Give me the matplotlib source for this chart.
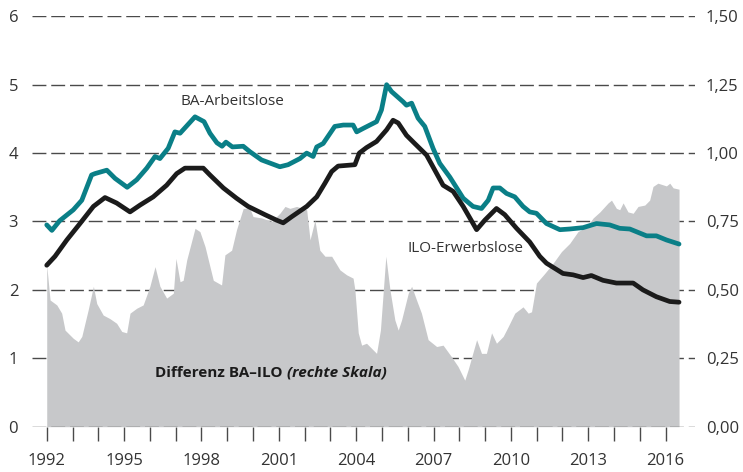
import matplotlib
matplotlib.use("Agg")
import matplotlib.pyplot as plt

plt.rcParams['font.family'] = ['Open Sans', 'DejaVu Sans']

# BA-Arbeitslose (Mio., linke Skala)
ba_years = [1992.0, 1992.2, 1992.5, 1993.03, 1993.36, 1993.74, 1993.87, 1994.33, 1994.65,
            1995.12, 1995.49, 1995.88, 1996.2, 1996.39, 1996.71, 1996.97, 1997.17, 1997.75,
            1998.1, 1998.33, 1998.6, 1998.8, 1998.95, 1999.2, 1999.62, 1999.88, 2000.33,
            2001.04, 2001.36, 2001.82, 2002.08, 2002.33, 2002.47, 2002.72, 2003.17, 2003.5,
            2003.88, 2004.02, 2004.27, 2004.53, 2004.79, 2004.98, 2005.18, 2005.37, 2005.82,
            2005.95, 2006.15, 2006.4, 2006.66, 2006.98, 2007.24, 2007.63, 2008.15, 2008.53,
            2008.86, 2009.12, 2009.31, 2009.57, 2009.83, 2010.15, 2010.47, 2010.73, 2010.99,
            2011.38, 2011.9, 2012.28, 2012.8, 2013.32, 2013.83, 2014.22, 2014.61, 2015.26,
            2015.64, 2016.03, 2016.52]
ba_values = [2.95, 2.87, 3.01, 3.17, 3.31, 3.68, 3.70, 3.75, 3.63,
             3.50, 3.61, 3.78, 3.95, 3.92, 4.07, 4.31, 4.29, 4.53,
             4.46, 4.29, 4.15, 4.10, 4.16, 4.09, 4.10, 4.02, 3.90,
             3.80, 3.83, 3.92, 4.00, 3.95, 4.09, 4.14, 4.39, 4.41,
             4.41, 4.31, 4.36, 4.41, 4.46, 4.63, 5.00, 4.90, 4.75,
             4.70, 4.73, 4.51, 4.39, 4.07, 3.85, 3.65, 3.34, 3.22,
             3.19, 3.31, 3.49, 3.49, 3.41, 3.36, 3.22, 3.14, 3.12,
             2.97, 2.88, 2.89, 2.91, 2.97, 2.95, 2.90, 2.89, 2.79,
             2.79, 2.73, 2.67]

# ILO-Erwerbslose (Mio., linke Skala)
ilo_years = [1992.0, 1992.32, 1992.78, 1993.29, 1993.81, 1994.26, 1994.71, 1995.23, 1995.62,
             1996.13, 1996.65, 1997.04, 1997.36, 1998.07, 1998.33, 1998.85, 1999.36, 1999.81,
             2000.46, 2000.91, 2001.17, 2001.5, 2002.08, 2002.47, 2002.79, 2003.05, 2003.3,
             2003.95, 2004.12, 2004.4, 2004.79, 2005.18, 2005.43, 2005.63, 2005.95, 2006.27,
             2006.73, 2007.05, 2007.37, 2007.76, 2008.15, 2008.67, 2008.99, 2009.44, 2009.76,
             2010.22, 2010.73, 2011.12, 2011.38, 2012.02, 2012.41, 2012.8, 2013.12, 2013.57,
             2014.09, 2014.74, 2015.12, 2015.64, 2016.16, 2016.52]
ilo_values = [2.36, 2.49, 2.73, 2.97, 3.22, 3.35, 3.27, 3.14, 3.24,
              3.36, 3.53, 3.70, 3.78, 3.78, 3.68, 3.49, 3.34, 3.22,
              3.10, 3.02, 2.98, 3.07, 3.22, 3.36, 3.56, 3.73, 3.81,
              3.83, 4.00, 4.08, 4.17, 4.34, 4.48, 4.44, 4.26, 4.14,
              3.97, 3.75, 3.53, 3.44, 3.22, 2.88, 3.02, 3.19, 3.10,
              2.90, 2.70, 2.49, 2.39, 2.24, 2.22, 2.18, 2.21, 2.14,
              2.10, 2.10, 2.00, 1.90, 1.83, 1.82]

# Differenz BA-ILO (Mio., rechte Skala)
diff_years = [1992.0, 1992.13, 1992.39, 1992.58, 1992.71, 1993.03, 1993.22, 1993.36, 1993.61,
              1993.81, 1993.94, 1994.19, 1994.45, 1994.71, 1994.91, 1995.1, 1995.23, 1995.49,
              1995.74, 1996.0, 1996.2, 1996.39, 1996.65, 1996.91, 1997.01, 1997.17, 1997.29,
              1997.43, 1997.75, 1997.94, 1998.14, 1998.46, 1998.78, 1998.91, 1999.17, 1999.36,
              1999.62, 1999.88, 2000.0, 2000.33, 2000.72, 2001.04, 2001.24, 2001.43, 2001.69,
              2002.08, 2002.21, 2002.4, 2002.59, 2002.79, 2003.05, 2003.37, 2003.63, 2003.88,
              2003.95, 2004.08, 2004.21, 2004.4, 2004.79, 2004.94, 2005.15, 2005.31, 2005.5,
              2005.63, 2005.76, 2006.02, 2006.15, 2006.34, 2006.53, 2006.79, 2007.12, 2007.37,
              2007.7, 2007.95, 2008.21, 2008.34, 2008.67, 2008.86, 2009.05, 2009.25, 2009.44,
              2009.7, 2009.89, 2010.15, 2010.47, 2010.67, 2010.8, 2010.99, 2011.31, 2011.64,
              2011.96, 2012.28, 2012.6, 2012.93, 2013.19, 2013.45, 2013.77, 2013.9, 2014.09,
              2014.22, 2014.35, 2014.54, 2014.74, 2014.93, 2015.19, 2015.38, 2015.51, 2015.7,
              2016.03, 2016.16, 2016.29, 2016.52]
diff_values = [0.590, 0.463, 0.445, 0.415, 0.353, 0.323, 0.310, 0.330, 0.428,
               0.513, 0.450, 0.408, 0.395, 0.378, 0.348, 0.343, 0.415, 0.433,
               0.445, 0.513, 0.585, 0.513, 0.470, 0.488, 0.615, 0.530, 0.535,
               0.610, 0.725, 0.713, 0.658, 0.535, 0.518, 0.628, 0.645, 0.720,
               0.798, 0.798, 0.768, 0.763, 0.750, 0.780, 0.805, 0.798, 0.805,
               0.793, 0.683, 0.755, 0.645, 0.623, 0.623, 0.573, 0.555, 0.543,
               0.500, 0.343, 0.298, 0.305, 0.268, 0.353, 0.623, 0.500, 0.390,
               0.353, 0.390, 0.488, 0.513, 0.463, 0.415, 0.318, 0.293, 0.298,
               0.255, 0.220, 0.170, 0.208, 0.318, 0.268, 0.268, 0.343, 0.305,
               0.330, 0.365, 0.415, 0.438, 0.415, 0.420, 0.525, 0.560, 0.598,
               0.640, 0.670, 0.713, 0.730, 0.763, 0.785, 0.818, 0.828, 0.798,
               0.793, 0.818, 0.785, 0.780, 0.805, 0.810, 0.828, 0.878, 0.890,
               0.880, 0.890, 0.873, 0.868]

left_ticks = [0, 1, 2, 3, 4, 5, 6]
right_ticks = [0.0, 0.25, 0.5, 0.75, 1.0, 1.25, 1.5]
right_labels = ["0,00", "0,25", "0,50", "0,75", "1,00", "1,25", "1,50"]
year_labels = list(range(1992, 2017, 3))
year_ticks = list(range(1992, 2017))

TEAL = "#0a7f87"
BLACK = "#1b1b1b"
GREY = "#c7c8ca"
GRID = "#4a4a4a"
TXT = "#333333"

fig = plt.figure(figsize=(7.43, 4.72), dpi=100)
ax2 = fig.add_axes([0.0431, 0.096, 0.892, 0.8695])   # right scale: fill + grid
ax = ax2.twinx()                                      # left scale: lines

ax.yaxis.tick_left()
ax2.yaxis.tick_right()

ax2.fill_between(diff_years, 0, diff_values, color=GREY, lw=0, zorder=2)
ax2.set_ylim(0, 1.5)
ax2.set_yticks(right_ticks)
ax2.set_yticklabels(right_labels)
for yv in right_ticks[1:]:
    ax2.axhline(yv, color=GRID, lw=1.0, ls=(0, (10, 3.5)), zorder=1)
ax2.axhline(0, color=GRID, lw=1.0, ls=(0, (10, 3.5)), zorder=3)

ax.plot(ba_years, ba_values, color=TEAL, lw=3.4, solid_capstyle='round', zorder=4)
ax.plot(ilo_years, ilo_values, color=BLACK, lw=3.4, solid_capstyle='round', zorder=5)
ax.set_ylim(0, 6)
ax.set_yticks(left_ticks)

for a in (ax, ax2):
    a.set_xlim(1991.43, 2017.13)
    for s in a.spines.values():
        s.set_visible(False)
    a.patch.set_visible(False)

ax2.set_xticks(year_labels)
ax2.set_xticklabels([str(y) for y in year_labels])
ax2.set_xticks(year_ticks, minor=True)
ax2.tick_params(axis='x', which='both', direction='out', length=10, width=1.0,
                color=GRID, pad=9, labelsize=12, labelcolor=TXT)
ax2.tick_params(axis='y', length=0, pad=8, labelsize=12, labelcolor=TXT)
ax.tick_params(axis='y', length=0, pad=10, labelsize=12, labelcolor=TXT)
ax.tick_params(axis='x', which='both', bottom=False, labelbottom=False)

ax.text(1999.22, 4.76, "BA-Arbeitslose", ha='center', va='center', fontsize=11, color=TXT)
ax.text(2008.25, 2.61, "ILO-Erwerbslose", ha='center', va='center', fontsize=11, color=TXT)
t1 = ax.text(1996.2, 0.785, "Differenz BA–ILO ", ha='left', va='center',
             fontsize=11, fontweight='bold', color=BLACK)
ax.annotate("(rechte Skala)", xy=(1, 0), xycoords=t1, ha='left', va='bottom',
            fontsize=11, fontweight='bold', fontstyle='italic', color=BLACK)

fig.savefig("out.png", dpi=100)
